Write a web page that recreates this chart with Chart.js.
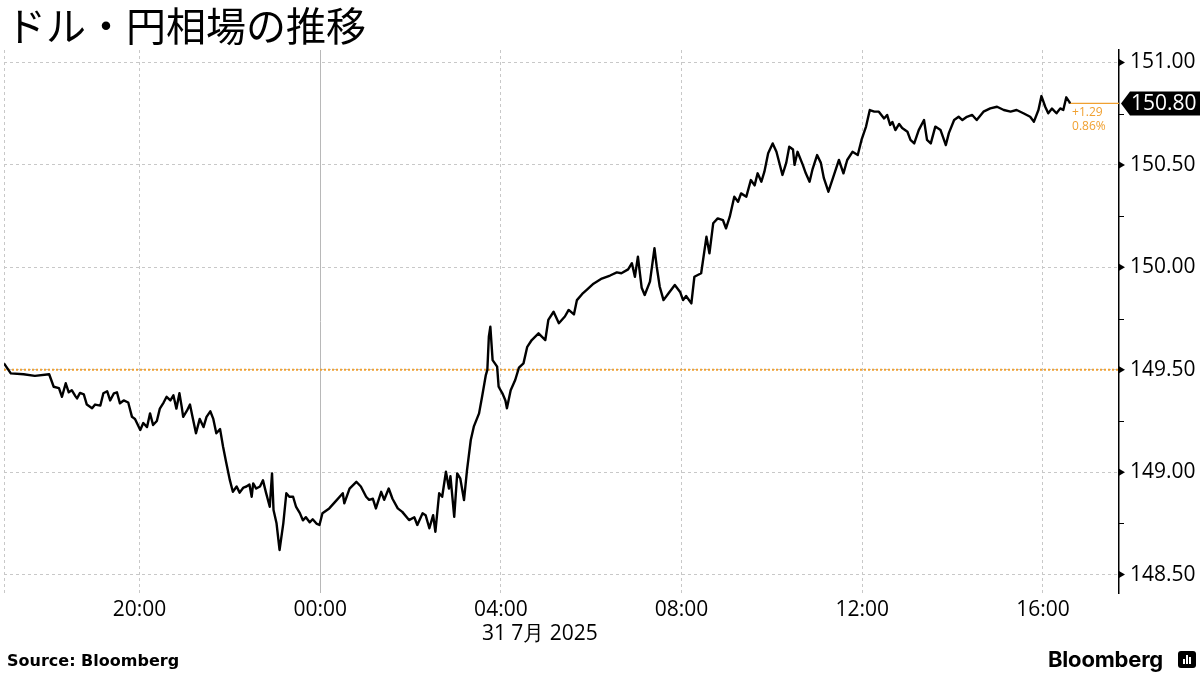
<!DOCTYPE html>
<html>
<head>
<meta charset="utf-8">
<script src="https://cdn.jsdelivr.net/npm/chart.js@4.4.1/dist/chart.umd.min.js"></script>
<style>
html,body{margin:0;padding:0;background:#fff;}
#wrap{position:relative;width:1200px;height:675px;overflow:hidden;background:#fff}
#c{position:absolute;left:0;top:0}
#title{position:absolute;left:6px;top:4px;font-family:"Noto Sans CJK JP";font-weight:400;font-size:40px;line-height:40px;color:#000;white-space:nowrap}
#source{position:absolute;left:7px;top:651px;font-family:"DejaVu Sans";font-weight:bold;font-size:16px;line-height:20px;color:#000;white-space:nowrap}
#logo{position:absolute;left:1048px;top:646px;font-family:Inter;font-weight:700;font-size:22px;line-height:26px;color:#000;white-space:nowrap;letter-spacing:-0.2px}
#icon{position:absolute;left:1178px;top:651px;width:18px;height:17px;background:#000;border-radius:3px}
#icon span{position:absolute;bottom:4px;width:2px;background:#fff}
</style>
</head>
<body>
<div id="wrap">
<canvas id="c" width="1200" height="675"></canvas>
<div id="title">ドル・円相場の推移</div>
<div id="source">Source: Bloomberg</div>
<div id="logo">Bloomberg</div>
<div id="icon"><span style="left:5px;height:5px"></span><span style="left:8px;height:9px"></span><span style="left:11px;height:7px"></span></div>
</div>
<script>
// minutes after 17:00 (30 Jul), USD/JPY
const times = [0,9,26,41,60,66,73,77,82,86,90,95,97,101,106,110,117,121,128,132,137,141,146,150,154,159,165,170,174,181,185,190,194,198,203,207,212,216,221,225,229,233,236,238,243,247,251,255,260,265,269,274,278,282,287,291,295,300,304,309,313,318,322,326,329,331,335,340,344,348,353,356,358,362,366,371,375,379,384,388,393,397,401,406,410,415,419,423,432,441,450,452,459,468,474,481,485,490,494,501,505,511,516,523,529,538,545,549,556,560,565,570,573,578,582,587,591,593,598,602,606,611,615,620,624,631,635,640,642,644,646,649,655,657,662,666,668,673,679,684,690,695,701,710,719,723,730,737,745,750,757,761,768,774,783,794,805,814,820,829,834,838,842,847,851,858,864,867,871,876,882,891,898,902,906,913,917,926,933,937,942,948,955,959,964,970,975,979,986,992,997,1001,1006,1010,1015,1021,1026,1034,1039,1043,1048,1050,1054,1061,1065,1070,1074,1080,1085,1089,1095,1101,1109,1115,1120,1127,1134,1139,1145,1150,1156,1162,1169,1173,1177,1180,1184,1189,1193,1200,1204,1209,1215,1222,1226,1231,1237,1244,1251,1255,1262,1268,1273,1279,1286,1292,1301,1310,1319,1328,1337,1345,1354,1363,1368,1374,1378,1383,1387,1392,1398,1403,1407,1411,1415,1416];
const prices = [149.531,149.482,149.478,149.47,149.478,149.417,149.41,149.368,149.434,149.39,149.40,149.37,149.36,149.387,149.38,149.33,149.312,149.33,149.325,149.385,149.395,149.35,149.385,149.39,149.336,149.35,149.34,149.27,149.26,149.206,149.24,149.22,149.287,149.23,149.25,149.31,149.34,149.368,149.35,149.375,149.31,149.385,149.32,149.27,149.30,149.33,149.26,149.19,149.26,149.22,149.27,149.297,149.26,149.19,149.21,149.124,149.05,148.961,148.904,148.93,148.90,148.925,148.93,148.94,148.88,148.945,148.92,148.93,148.96,148.90,148.831,148.994,148.815,148.75,148.62,148.75,148.897,148.88,148.88,148.83,148.80,148.765,148.78,148.755,148.77,148.749,148.742,148.799,148.823,148.86,148.897,148.848,148.92,148.953,148.93,148.88,148.865,148.87,148.823,148.904,148.865,148.92,148.87,148.823,148.806,148.766,148.78,148.742,148.799,148.79,148.726,148.79,148.709,148.897,148.88,149.002,148.92,148.98,148.782,148.994,148.97,148.864,149.01,149.157,149.222,149.287,149.368,149.474,149.499,149.661,149.71,149.547,149.515,149.417,149.385,149.35,149.312,149.40,149.45,149.51,149.531,149.612,149.645,149.678,149.645,149.743,149.783,149.727,149.76,149.792,149.77,149.84,149.87,149.89,149.92,149.945,149.96,149.975,149.971,149.99,150.02,149.954,150.052,149.90,149.865,149.93,150.093,150.003,149.905,149.84,149.87,149.914,149.88,149.84,149.86,149.824,149.954,149.971,150.149,150.068,150.215,150.239,150.23,150.19,150.247,150.345,150.32,150.361,150.345,150.426,150.40,150.459,150.418,150.467,150.557,150.605,150.564,150.451,150.51,150.589,150.575,150.50,150.564,150.50,150.459,150.418,150.48,150.548,150.51,150.435,150.369,150.435,150.524,150.459,150.524,150.564,150.548,150.622,150.687,150.768,150.76,150.76,150.727,150.744,150.695,150.71,150.67,150.70,150.68,150.662,150.622,150.605,150.67,150.719,150.622,150.605,150.687,150.67,150.597,150.655,150.719,150.735,150.719,150.735,150.744,150.719,150.76,150.776,150.784,150.768,150.76,150.768,150.752,150.735,150.711,150.768,150.836,150.784,150.752,150.775,150.752,150.776,150.768,150.83,150.808,150.80];
const prevClose = 149.50;
const xTickMinutes = [0,180,420,660,900,1140,1380];
const xTickLabels = ['','20:00','00:00','04:00','08:00','12:00','16:00'];
const dayBoundary = 420;
const dateTickMinute = 660;
const dateLabel = '31 7月 2025';
const yTicks = [148.5,149.0,149.5,150.0,150.5,151.0];
const yMinorTicks = [148.75,149.25,149.75,150.25,150.75];
const changeLabels = ['+1.29','0.86%'];
const xRange = [0,1481];
const yRange = [148.41,151.061];

const ORANGE = '#f0a030';
const FONT = '"Open Sans","Liberation Sans",sans-serif';
const lastT = times[times.length-1];
const lastP = prices[prices.length-1];

const decor = {
  id:'decor',
  afterDraw(chart){
    const {ctx, chartArea:a, scales:{x, y}} = chart;
    const ax = a.right;
    ctx.save();
    ctx.fillStyle = '#000';
    ctx.strokeStyle = '#000';
    ctx.lineWidth = 1;
    yTicks.forEach(v => {
      const py = y.getPixelForValue(v);
      ctx.beginPath();
      ctx.moveTo(ax, py-3.5); ctx.lineTo(ax+6, py); ctx.lineTo(ax, py+3.5);
      ctx.closePath(); ctx.fill();
    });
    yMinorTicks.forEach(v => {
      const py = Math.round(y.getPixelForValue(v)) + 0.5;
      ctx.beginPath(); ctx.moveTo(ax, py); ctx.lineTo(ax+5, py); ctx.stroke();
    });
    // last value tag
    const ty = y.getPixelForValue(lastP);
    ctx.fillStyle = '#000';
    ctx.beginPath();
    ctx.moveTo(ax+2, ty); ctx.lineTo(ax+11, ty-12); ctx.lineTo(1200, ty-12);
    ctx.lineTo(1200, ty+12); ctx.lineTo(ax+11, ty+12); ctx.closePath(); ctx.fill();
    ctx.fillStyle = '#fff';
    ctx.font = '21px ' + FONT;
    ctx.textBaseline = 'middle';
    ctx.textAlign = 'left';
    ctx.fillText(lastP.toFixed(2), ax+12, ty+1);
    // change labels
    const lx = x.getPixelForValue(lastT);
    ctx.fillStyle = ORANGE;
    ctx.font = '12px ' + FONT;
    ctx.fillText(changeLabels[0], lx+2, ty+9);
    ctx.fillText(changeLabels[1], lx+2, ty+23);
    // date label
    ctx.fillStyle = '#000';
    ctx.font = '21px ' + FONT;
    ctx.fillText(dateLabel, x.getPixelForValue(dateTickMinute)-19, a.bottom+41);
    ctx.restore();
  }
};

new Chart(document.getElementById('c'), {
  type:'line',
  data:{datasets:[
    {data: times.map((t,i)=>({x:t, y:prices[i]})), borderColor:'#000', borderWidth:2.4, pointRadius:0, tension:0, borderJoinStyle:'round'},
    {data:[{x:xRange[0], y:prevClose},{x:xRange[1], y:prevClose}], borderColor:ORANGE, borderWidth:2, borderDash:[2,2], pointRadius:0},
    {data:[{x:lastT, y:lastP},{x:xRange[1], y:lastP}], borderColor:ORANGE, borderWidth:1.2, pointRadius:0}
  ]},
  options:{
    responsive:false, animation:false, devicePixelRatio:1,
    layout:{padding:{top:50,left:0,right:0,bottom:52}},
    plugins:{legend:{display:false}, tooltip:{enabled:false}},
    scales:{
      x:{
        type:'linear', min:xRange[0], max:xRange[1],
        afterBuildTicks:s=>{ s.ticks = xTickMinutes.map(v=>({value:v})); },
        ticks:{autoSkip:false, maxRotation:0, padding:4, color:'#000', font:{family:FONT, size:21},
          callback:(v)=>xTickLabels[xTickMinutes.indexOf(v)]},
        grid:{drawTicks:false, lineWidth:1, color:c=> (c.tick && c.tick.value===dayBoundary) ? '#b8b8b8' : '#c8c8c8'},
        border:{display:false, dash:c=> (c.tick && c.tick.value===dayBoundary) ? [] : [3,3]},
        afterFit:s=>{ s.height = 30; }
      },
      y:{
        position:'right', min:yRange[0], max:yRange[1],
        afterBuildTicks:s=>{ s.ticks = yTicks.map(v=>({value:v})); },
        ticks:{padding:11, color:'#000', font:{family:FONT, size:21}, callback:v=>v.toFixed(2)},
        grid:{drawTicks:false, color:'#c8c8c8', lineWidth:1},
        border:{display:true, color:'#000', width:1.5, dash:[3,3]},
        afterFit:s=>{ s.width = 81; }
      }
    }
  },
  plugins:[decor]
});
</script>
</body>
</html>
